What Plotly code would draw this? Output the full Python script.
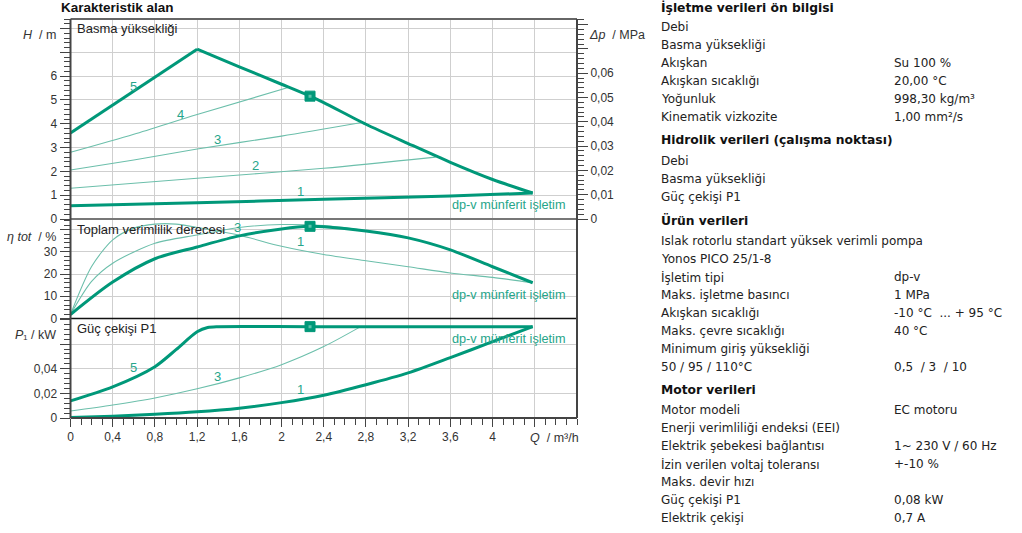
import plotly.graph_objects as go

W, H = 1022, 533

# ---- flow axis (m³/h) ----
q_ticks = [0, 0.4, 0.8, 1.2, 1.6, 2.0, 2.4, 2.8, 3.2, 3.6, 4.0, 4.4]
q_range = [0, 4.8]

# ---- head curves H / m ----
q_h5_up = [0, 1.2]
h_5_up = [3.61, 7.13]
q_h5_down = [1.2, 1.6, 2.0, 2.27, 2.4, 2.8, 3.2, 3.6, 4.0, 4.38]
h_5_down = [7.13, 6.39, 5.66, 5.16, 4.89, 3.98, 3.17, 2.38, 1.66, 1.09]
q_h4 = [0, 0.6, 1.2, 2.07]
h_4 = [2.8, 3.56, 4.39, 5.53]
q_h3 = [0, 0.6, 1.2, 2.0, 2.76]
h_3 = [2.06, 2.48, 2.94, 3.48, 4.05]
q_h2 = [0, 1.2, 2.4, 3.46]
h_2 = [1.29, 1.71, 2.13, 2.6]
q_h1 = [0, 1.2, 2.4, 3.6, 4.38]
h_1 = [0.56, 0.68, 0.83, 0.97, 1.09]

# ---- total efficiency η tot / % ----
q_e5 = [0, 0.4, 0.8, 1.2, 1.6, 2.0, 2.27, 2.4, 2.8, 3.2, 3.6, 4.0, 4.38]
e_5 = [1.8, 16.4, 26.9, 32.2, 37.2, 40.3, 41.5, 41.3, 39.4, 36.3, 30.9, 23.3, 16.1]
q_e1 = [0, 0.2, 0.4, 0.6, 0.8, 1.0, 1.2, 1.6, 2.0, 2.4, 2.8, 3.2, 3.6, 4.0, 4.38]
e_1 = [1.8, 23.4, 35.4, 40.7, 42.5, 42.5, 41.0, 37.5, 32.5, 28.8, 26.0, 23.3, 20.5, 18.5, 16.1]
q_e3 = [0, 0.2, 0.4, 0.8, 1.2, 1.6, 2.0, 2.4, 2.76]
e_3 = [1.8, 16.7, 24.9, 33.9, 37.6, 41.0, 42.3, 41.8, 39.8]

# ---- power input P1 / kW ----
q_p5 = [0, 0.4, 0.8, 1.0, 1.2, 1.3, 1.4, 2.27, 4.38]
p_5 = [0.0139, 0.0253, 0.0417, 0.0555, 0.0700, 0.0735, 0.0742, 0.0742, 0.0742]
q_p3 = [0, 0.4, 0.8, 1.2, 1.6, 2.0, 2.4, 2.75]
p_3 = [0.0057, 0.0106, 0.0163, 0.0237, 0.0326, 0.0433, 0.058, 0.0742]
q_p1 = [0, 0.4, 0.8, 1.2, 1.6, 2.0, 2.4, 2.8, 3.2, 3.6, 4.0, 4.38]
p_1 = [0.0005, 0.0015, 0.003, 0.005, 0.008, 0.0125, 0.0185, 0.027, 0.0366, 0.049, 0.062, 0.0742]

# ---- operating point ----
q_op = 2.27
h_op = 5.16
e_op = 41.5
p_op = 0.0742

# ---- axis ticks ----
h_ticks = [0, 1, 2, 3, 4, 5, 6, 7, 8]
h_labels = ["0", "1", "2", "3", "4", "5", "6", "", ""]
dp_ticks = [0, 0.01, 0.02, 0.03, 0.04, 0.05, 0.06, 0.07, 0.08]
dp_labels = ["0", "0,01", "0,02", "0,03", "0,04", "0,05", "0,06", "", ""]
e_ticks = [0, 10, 20, 30, 40]
e_labels = ["0", "10", "20", "30", ""]
p_ticks = [0, 0.02, 0.04, 0.06, 0.08]
p_labels = ["0", "0,02", "0,04", "", ""]

# ---- data sheet ----
sheet = [
    ("h", "İşletme verileri ön bilgisi", "", 7),
    ("t", "Debi", "", 27),
    ("t", "Basma yüksekliği", "", 45),
    ("t", "Akışkan", "Su 100 %", 63),
    ("t", "Akışkan sıcaklığı", "20,00 °C", 81),
    ("t", "Yoğunluk", "998,30 kg/m³", 99),
    ("t", "Kinematik vizkozite", "1,00 mm²/s", 117),
    ("h", "Hidrolik verileri (çalışma noktası)", "", 140),
    ("t", "Debi", "", 161),
    ("t", "Basma yüksekliği", "", 179),
    ("t", "Güç çekişi P1", "", 197),
    ("h", "Ürün verileri", "", 220),
    ("t", "Islak rotorlu standart yüksek verimli pompa", "", 241),
    ("t", "Yonos PICO 25/1-8", "", 259),
    ("t", "İşletim tipi", "dp-v", 277),
    ("t", "Maks. işletme basıncı", "1 MPa", 295),
    ("t", "Akışkan sıcaklığı", "-10 °C  ... + 95 °C", 313),
    ("t", "Maks. çevre sıcaklığı", "40 °C", 331),
    ("t", "Minimum giriş yüksekliği", "", 349),
    ("t", "50 / 95 / 110°C", "0,5  / 3  / 10", 367),
    ("h", "Motor verileri", "", 390),
    ("t", "Motor modeli", "EC motoru", 410),
    ("t", "Enerji verimliliği endeksi (EEI)", "", 428),
    ("t", "Elektrik şebekesi bağlantısı", "1~ 230 V / 60 Hz", 446),
    ("t", "İzin verilen voltaj toleransı", "+-10 %", 464),
    ("t", "Maks. devir hızı", "", 482),
    ("t", "Güç çekişi P1", "0,08 kW", 500),
    ("t", "Elektrik çekişi", "0,7 A", 518),
]

GREEN = "#009879"
THIN = "#6cbfab"
LABEL_GREEN = "#26a58a"
GRID = "#cfcfcf"
AXIS_FONT = dict(family="Liberation Sans, Arial", size=12, color="#333333")
SHEET_FONT = "DejaVu Sans, Verdana"


def px(x):
    return x / W


def py(y):
    return 1 - y / H


# plot-area frame (pixel positions)
L, R = 70.5, 577
T_TOP, T_MID, T_BOT, T_END = 19, 219, 318.5, 418

fig = go.Figure()


def line(xs, ys, xa, ya, thick=True, shape="spline"):
    fig.add_trace(go.Scatter(
        x=xs, y=ys, xaxis=xa, yaxis=ya, mode="lines",
        line=dict(color=GREEN if thick else THIN, width=3 if thick else 1.1,
                  shape=shape, smoothing=0.8),
        hoverinfo="skip", showlegend=False))


def op_marker(x, y, xa, ya):
    fig.add_trace(go.Scatter(
        x=[x], y=[y], xaxis=xa, yaxis=ya, mode="markers",
        marker=dict(symbol="square", size=10, color=GREEN,
                    line=dict(color=GREEN, width=1)),
        hoverinfo="skip", showlegend=False))
    fig.add_trace(go.Scatter(
        x=[x], y=[y], xaxis=xa, yaxis=ya, mode="markers",
        marker=dict(symbol="square", size=3, color="#5fc4ad"),
        hoverinfo="skip", showlegend=False))


# head panel (x3 / y3)
line(q_h4, h_4, "x3", "y3", thick=False)
line(q_h3, h_3, "x3", "y3", thick=False)
line(q_h2, h_2, "x3", "y3", thick=False)
line(q_h5_up, h_5_up, "x3", "y3", shape="linear")
line(q_h5_down, h_5_down, "x3", "y3")
line(q_h1, h_1, "x3", "y3")
op_marker(q_op, h_op, "x3", "y3")
# pressure axis carrier
fig.add_trace(go.Scatter(x=[0], y=[0], xaxis="x3", yaxis="y4", mode="markers",
                         marker=dict(opacity=0), hoverinfo="skip", showlegend=False))

# efficiency panel (x2 / y2)
line(q_e1, e_1, "x2", "y2", thick=False)
line(q_e3, e_3, "x2", "y2", thick=False)
line(q_e5, e_5, "x2", "y2")
op_marker(q_op, e_op, "x2", "y2")

# power panel (x / y)
line(q_p3, p_3, "x", "y", thick=False)
line(q_p5, p_5, "x", "y")
line(q_p1, p_1, "x", "y")
op_marker(q_op, p_op, "x", "y")

dom_top = [py(T_MID), py(T_TOP)]
dom_mid = [py(T_BOT), py(T_MID)]
dom_bot = [py(T_END), py(T_BOT)]
xdom = [px(L), px(R)]

q_labels = [f"{v:g}".replace(".", ",") for v in q_ticks[:-1]] + [""]

xcommon = dict(range=q_range, domain=xdom, tickmode="array", tickvals=q_ticks,
               showgrid=True, gridcolor=GRID, gridwidth=1, zeroline=False,
               showline=False, fixedrange=True, automargin=False)

ycommon = dict(showgrid=True, gridcolor=GRID, gridwidth=1, zeroline=False,
               showline=False, ticks="outside", ticklen=10, tickwidth=1,
               tickcolor="#444444", tickfont=AXIS_FONT, tickmode="array",
               fixedrange=True, automargin=False)

fig.update_layout(
    width=W, height=H, margin=dict(l=0, r=0, t=0, b=0, pad=0, autoexpand=False),
    paper_bgcolor="white", plot_bgcolor="white",
    font=dict(family="Liberation Sans, Arial", size=12, color="#333333"),
    separators=", ",
    xaxis=dict(**xcommon, anchor="y", ticktext=q_labels, ticks="outside",
               ticklen=8, tickcolor="#444444", tickfont=AXIS_FONT,
               minor=dict(tickmode="linear", tick0=0, dtick=0.1, ticks="outside",
                          ticklen=6, tickcolor="#444444", showgrid=False)),
    xaxis2=dict(**xcommon, anchor="y2", showticklabels=False, ticks=""),
    xaxis3=dict(**xcommon, anchor="y3", showticklabels=False, ticks=""),
    yaxis=dict(**ycommon, domain=dom_bot, anchor="x", range=[0, 0.0808],
               tickvals=p_ticks, ticktext=p_labels,
               minor=dict(tickmode="linear", tick0=0, dtick=0.004, ticks="outside",
                          ticklen=6, tickcolor="#444444", showgrid=False)),
    yaxis2=dict(**ycommon, domain=dom_mid, anchor="x2", range=[0, 44.8],
                tickvals=e_ticks, ticktext=e_labels,
                minor=dict(tickmode="linear", tick0=0, dtick=2, ticks="outside",
                           ticklen=6, tickcolor="#444444", showgrid=False)),
    yaxis3=dict(**ycommon, domain=dom_top, anchor="x3", range=[0, 8.4],
                tickvals=h_ticks, ticktext=h_labels,
                minor=dict(tickmode="linear", tick0=0, dtick=0.2, ticks="outside",
                           ticklen=6, tickcolor="#444444", showgrid=False)),
    yaxis4=dict(overlaying="y3", side="right", anchor="x3", range=[0, 0.0823],
                showgrid=False, zeroline=False, showline=False, ticks="outside",
                ticklen=10, tickwidth=1, tickcolor="#444444", tickfont=AXIS_FONT,
                tickmode="array", tickvals=dp_ticks, ticktext=dp_labels,
                minor=dict(tickmode="linear", tick0=0, dtick=0.002, ticks="outside",
                           ticklen=6, tickcolor="#444444", showgrid=False),
                fixedrange=True, automargin=False),
)

# frame lines
frame = [
    (L, T_TOP, R, T_TOP, "#666666", 2),
    (L, T_MID, R, T_MID, "#777777", 2),
    (L, T_BOT, R, T_BOT, "#111111", 1.5),
    (L, T_END, R, T_END, "#444444", 2),
    (L, T_TOP, L, T_END, "#444444", 2),
    (R, T_TOP, R, T_END, "#444444", 2),
]
for x0, y0, x1, y1, c, w in frame:
    fig.add_shape(type="line", xref="paper", yref="paper",
                  x0=px(x0), y0=py(y0), x1=px(x1), y1=py(y1),
                  line=dict(color=c, width=w), layer="above")

ann = []


def text(x, y, s, size=12, color="#333333", anchor="left", bold=False, family=None,
         xref="paper", yref="paper"):
    ann.append(dict(x=x, y=y, xref=xref, yref=yref, text=f"<b>{s}</b>" if bold else s,
                    showarrow=False, xanchor=anchor, yanchor="middle",
                    font=dict(size=size, color=color,
                              family=family or "Liberation Sans, Arial")))


# chart title and panel titles
text(px(59), py(8), "Karakteristik alan", size=13.5, color="#111111", bold=True)
text(px(75), py(28), "Basma yüksekliği", size=13, color="#222222")
text(px(75), py(229), "Toplam verimlilik derecesi", size=13, color="#222222")
text(px(75), py(328), "Güç çekişi P1", size=13, color="#222222")

# axis titles
text(px(58), py(35), "<i>H</i>  / m", size=12.5, anchor="right")
text(px(587), py(35), "<i>Δp</i>  / MPa", size=12.5, anchor="left")
text(px(58), py(237), "<i>η tot</i>  / %", size=12.5, anchor="right")
text(px(58), py(335), "<i>P</i>₁ / kW", size=12.5, anchor="right")
text(px(528), py(438), "<i>Q</i>  / m³/h", size=12.5, anchor="left")

# curve numbers
for s, x, y in [("5", 0.6, 5.55), ("4", 1.04, 4.4), ("3", 1.39, 3.35),
                ("2", 1.75, 2.25), ("1", 2.18, 1.15)]:
    text(x, y, s, size=13, color=LABEL_GREEN, anchor="center", xref="x3", yref="y3")
for s, x, y in [("3", 1.58, 41.2), ("1", 2.18, 34.5)]:
    text(x, y, s, size=13, color=LABEL_GREEN, anchor="center", xref="x2", yref="y2")
for s, x, y in [("5", 0.6, 0.041), ("3", 1.39, 0.0335), ("1", 2.18, 0.023)]:
    text(x, y, s, size=13, color=LABEL_GREEN, anchor="center", xref="x", yref="y")

# control mode note in each panel
for x, y, xa, ya in [(4.71, 0.58, "x3", "y3"), (4.71, 10.7, "x2", "y2"),
                     (4.71, 0.0645, "x", "y")]:
    text(x, y, "dp-v münferit işletim", size=12.7, color=LABEL_GREEN, anchor="right",
         xref=xa, yref=ya)

# data sheet
for kind, label, value, y in sheet:
    if kind == "h":
        text(px(659), py(y), label, size=12.3, color="#111111", bold=True, family=SHEET_FONT)
    else:
        text(px(659), py(y), label, size=12, color="#222222", family=SHEET_FONT)
        if value:
            text(px(892), py(y), value, size=12, color="#222222", family=SHEET_FONT)

fig.update_layout(annotations=ann)

fig.write_html("out.html")
